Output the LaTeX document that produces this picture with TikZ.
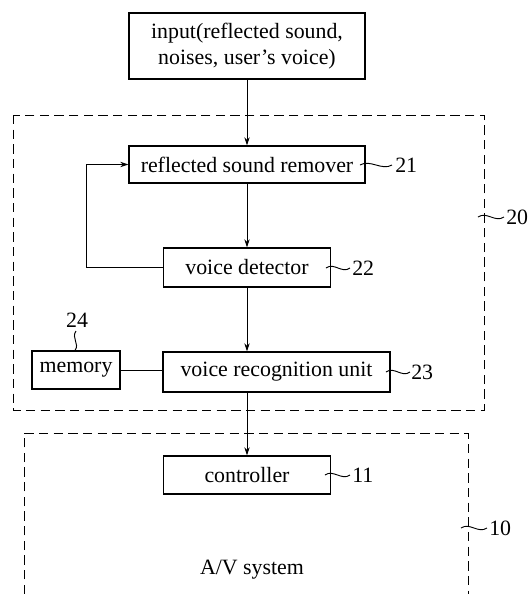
\documentclass[tikz,border=0pt]{standalone}
\usepackage{fontspec}
\setmainfont{Liberation Serif}
\usetikzlibrary{arrows.meta,calc}
\begin{document}
\begin{tikzpicture}[x=0.75pt,y=-0.75pt,
  box/.style={draw,line width=1pt,rectangle,inner sep=0pt,align=center,font=\fontsize{16.4}{20}\selectfont},
  lbl/.style={font=\fontsize{16.4}{20}\selectfont,inner sep=0pt,anchor=west},
  arr/.style={line width=0.7pt,-{Stealth[length=6pt,width=4pt]}},
  conn/.style={line width=0.7pt},
  dbox/.style={line width=0.7pt,dash pattern=on 7pt off 4pt},
  lead/.style={line width=0.7pt}]
\useasboundingbox (0,0) rectangle (528,594);
\fill[white] (0,0) rectangle (528,594);
% dashed boxes
\draw[dbox] (13,115) rectangle (484,410);
\draw[dbox] (24,594) -- (24,433) -- (468,433) -- (468,594);
% nodes
\node[box,minimum width=236*0.75pt,minimum height=66*0.75pt] (in) at (247,46) {input(reflected sound,\\noises, user’s voice)};
\node[box,minimum width=236*0.75pt,minimum height=37*0.75pt] (rem) at (247,164.5) {reflected sound remover};
\node[box,minimum width=167*0.75pt,minimum height=39*0.75pt] (det) at (247,267.5) {voice detector};
\node[box,minimum width=227*0.75pt,minimum height=40*0.75pt] (vru) at (276.5,372) {voice recognition unit};
\node[box,minimum width=88*0.75pt,minimum height=38*0.75pt] (mem) at (76,370) {memory};
\node[box,minimum width=167*0.75pt,minimum height=38*0.75pt] (ctl) at (247,475) {controller};
\node[font=\fontsize{16.4}{20}\selectfont,inner sep=0pt] (av) at (252,570) {A/V system};
% connectors
\draw[arr] (in.south) -- (rem.north);
\draw[arr] (rem.south) -- (det.north);
\draw[arr] (det.south) -- (det.south |- vru.north);
\draw[arr] (vru.south -| ctl.north) -- (ctl.north);
\coordinate (fb) at (86,267.5);
\draw[arr] (det.west) -- (fb) |- (rem.west);
\draw[conn] (mem.east) -- (mem.east -| vru.west);
% reference numerals with leaders
\coordinate (t21a) at (360,165); \coordinate (t21b) at (392,165);
\draw[lead] (t21a) .. controls (370,159) and (382,171) .. (t21b);
\node[lbl] (n21) at (395,165) {21};
\coordinate (t22a) at (326,268); \coordinate (t22b) at (350,268);
\draw[lead] (t22a) .. controls (334,262) and (342,274) .. (t22b);
\node[lbl] (n22) at (352,268) {22};
\coordinate (t23a) at (386,372); \coordinate (t23b) at (410,372);
\draw[lead] (t23a) .. controls (394,366) and (402,378) .. (t23b);
\node[lbl] (n23) at (411,372) {23};
\coordinate (t11a) at (325,475); \coordinate (t11b) at (350,475);
\draw[lead] (t11a) .. controls (333,469) and (342,481) .. (t11b);
\node[lbl] (n11) at (352,475) {11};
\coordinate (t20a) at (478,217); \coordinate (t20b) at (504,217);
\draw[lead] (t20a) .. controls (487,211) and (495,223) .. (t20b);
\node[lbl] (n20) at (506,217) {20};
\coordinate (t10a) at (461,528); \coordinate (t10b) at (487,528);
\draw[lead] (t10a) .. controls (470,522) and (478,534) .. (t10b);
\node[lbl] (n10) at (489,528) {10};
\node[font=\fontsize{16.4}{20}\selectfont,inner sep=0pt] (n24) at (77,320) {24};
\draw[lead] (76,331) .. controls (71,338) and (80,344) .. (mem.north -| 75,0);
\end{tikzpicture}
\end{document}
